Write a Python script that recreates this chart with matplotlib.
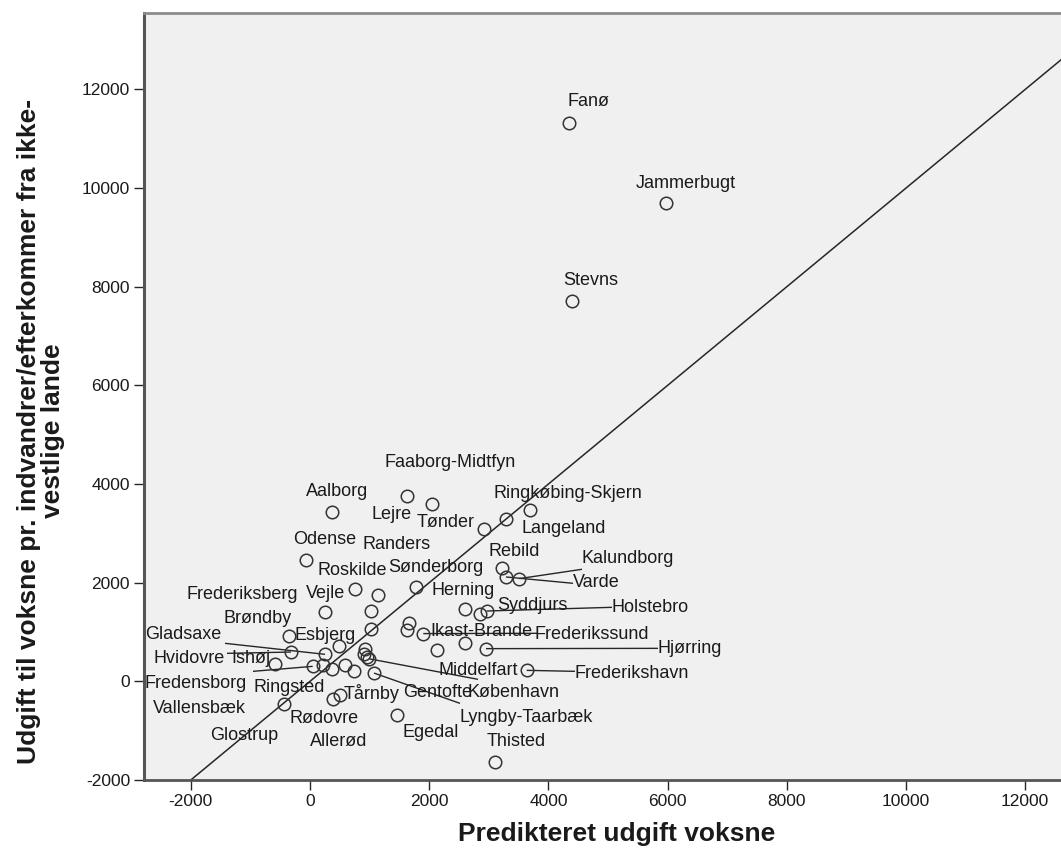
import matplotlib
matplotlib.use("Agg")
import matplotlib.pyplot as plt
from matplotlib import font_manager

plt.rcParams["axes.unicode_minus"] = False

# Municipalities: predicted adult expenditure vs. actual expenditure per
# adult immigrant/descendant from non-western countries
names = [
    "Fanø", "Jammerbugt", "Stevns", "Faaborg-Midtfyn", "Lejre", "Aalborg",
    "Tønder", "Langeland", "Ringkøbing-Skjern", "Odense", "Roskilde", "Randers",
    "Sønderborg", "Rebild", "Varde", "Kalundborg", "Frederiksberg", "Vejle",
    "Herning", "Syddjurs", "Holstebro", "", "", "", "Frederikssund",
    "Ikast-Brande", "Middelfart", "Hjørring", "Frederikshavn", "Brøndby",
    "Esbjerg", "Ishøj", "Gladsaxe", "", "", "Gentofte", "København",
    "Hvidovre", "Fredensborg", "Vallensbæk", "Ringsted", "", "Tårnby",
    "Lyngby-Taarbæk", "Glostrup", "Rødovre", "Allerød", "Egedal", "Thisted",
]
predicted = [
    4346, 5973, 4391, 1623, 2052, 374,
    2920, 3289, 3691, -72, 755, 1136,
    1774, 3217, 3289, 3512, 252, 1018,
    2601, 2852, 2965, 1018, 1666, 1623, 1901,
    2601, 2126, 2953, 3636, -352,
    492, -319, 252, 923, 906, 956, 998,
    -587, 45, 213, 364, 587, 738,
    1074, -431, 381, 503, 1455, 3104,
]
actual = [
    11325, 9702, 7708, 3753, 3604, 3434,
    3083, 3286, 3469, 2469, 1880, 1744,
    1913, 2306, 2116, 2083, 1406, 1426,
    1460, 1359, 1426, 1069, 1183, 1034, 968,
    777, 629, 663, 223, 913,
    716, 594, 548, 663, 562, 493, 456,
    345, 304, 325, 258, 325, 209,
    168, -467, -351, -284, -690, -1637,
]

x_ticks = [-2000, 0, 2000, 4000, 6000, 8000, 10000, 12000]
y_ticks = [-2000, 0, 2000, 4000, 6000, 8000, 10000, 12000]

x_title = "Predikteret udgift voksne"
y_title = "Udgift til voksne pr. indvandrer/efterkommer fra ikke-\nvestlige lande"

# Label placement (left edge, vertical centre) in data units
label_pos = {
    "Fanø": (4329, 11759), "Jammerbugt": (5470, 10101), "Stevns": (4245, 8120),
    "Faaborg-Midtfyn": (1242, 4442), "Aalborg": (-67, 3840), "Lejre": (1040, 3387),
    "Tønder": (1795, 3211), "Ringkøbing-Skjern": (3071, 3813),
    "Langeland": (3557, 3103), "Odense": (-285, 2880), "Randers": (873, 2779),
    "Rebild": (2987, 2637), "Kalundborg": (4564, 2495), "Roskilde": (134, 2252),
    "Sønderborg": (1309, 2312), "Varde": (4413, 1994), "Herning": (2047, 1832),
    "Frederiksberg": (-2064, 1765), "Vejle": (-67, 1785), "Syddjurs": (3138, 1542),
    "Holstebro": (5067, 1507), "Brøndby": (-1443, 1278), "Gladsaxe": (-2769, 953),
    "Esbjerg": (-268, 933), "Ikast-Brande": (2013, 1020),
    "Frederikssund": (3775, 953), "Hjørring": (5839, 663), "Hvidovre": (-2618, 467),
    "Ishøj": (-1326, 467), "Middelfart": (2164, 223), "Frederikshavn": (4446, 168),
    "Fredensborg": (-2769, -34), "Ringsted": (-956, -122), "Tårnby": (570, -243),
    "Gentofte": (1560, -217), "København": (2640, -217), "Vallensbæk": (-2634, -548),
    "Rødovre": (-352, -751), "Lyngby-Taarbæk": (2517, -724),
    "Glostrup": (-1678, -1095), "Allerød": (0, -1211), "Egedal": (1544, -1034),
    "Thisted": (2970, -1211),
}

# Where a leader line leaves its label
leader_from = {
    "Gladsaxe": (-1426, 771), "Ishøj": (-1393, 568), "Fredensborg": (-956, 203),
    "København": (2819, 41), "Lyngby-Taarbæk": (2517, -446),
    "Kalundborg": (4564, 2272), "Varde": (4413, 1988), "Holstebro": (5067, 1501),
    "Frederikssund": (3809, 974), "Hjørring": (5839, 669),
    "Frederikshavn": (4446, 203),
}

available = {f.name for f in font_manager.fontManager.ttflist}
label_font = "Liberation Sans" if "Liberation Sans" in available else "DejaVu Sans"

ink = "#262626"

fig = plt.figure(figsize=(10.61, 8.60), dpi=100)
fig.patch.set_facecolor("white")
ax = fig.add_axes([144 / 1061, 1 - 780 / 860, 1 - 144 / 1061, (780 - 12.7) / 860])
ax.set_facecolor("#F0F0F0")

ax.set_xlim(-2785, 12601)
ax.set_ylim(-2000, 13556)

# reference line y = x
ax.plot([-2000, 14000], [-2000, 14000], color=ink, lw=1.1, zorder=2)

# leader lines from labels to their points
for name, start in leader_from.items():
    i = names.index(name)
    ax.plot([start[0], predicted[i]], [start[1], actual[i]],
            color=ink, lw=1.0, zorder=2, solid_capstyle="butt")

ax.plot(predicted, actual, linestyle="none", marker="o", markersize=9,
        markerfacecolor="none", markeredgecolor="#333333", markeredgewidth=1.1,
        zorder=3)

for name, (tx, ty) in label_pos.items():
    ax.text(tx, ty, name, ha="left", va="center", fontsize=13,
            family=label_font, color="#1a1a1a", zorder=4)

ax.set_xticks(x_ticks)
ax.set_yticks(y_ticks)
ax.tick_params(axis="both", direction="out", length=7, width=1.0,
               color=ink, labelsize=12.5, labelcolor="#1a1a1a", pad=3)
for lab in ax.get_xticklabels() + ax.get_yticklabels():
    lab.set_family(label_font)

ax.spines["right"].set_visible(False)
ax.spines["top"].set_color("#8c8c8c")
ax.spines["top"].set_linewidth(2.0)
ax.spines["left"].set_color("#555555")
ax.spines["left"].set_linewidth(2.2)
ax.spines["bottom"].set_color("#555555")
ax.spines["bottom"].set_linewidth(2.0)

fig.text(617 / 1061, 1 - 834 / 860, x_title, ha="center", va="center",
         fontsize=19, fontweight="bold", family=label_font, color="#1a1a1a")
fig.text(41 / 1061, 1 - 431 / 860, y_title, ha="center", va="center",
         rotation=90, fontsize=19, fontweight="bold", family=label_font,
         color="#1a1a1a", linespacing=1.0, multialignment="center")

fig.savefig("out.png", dpi=100)
